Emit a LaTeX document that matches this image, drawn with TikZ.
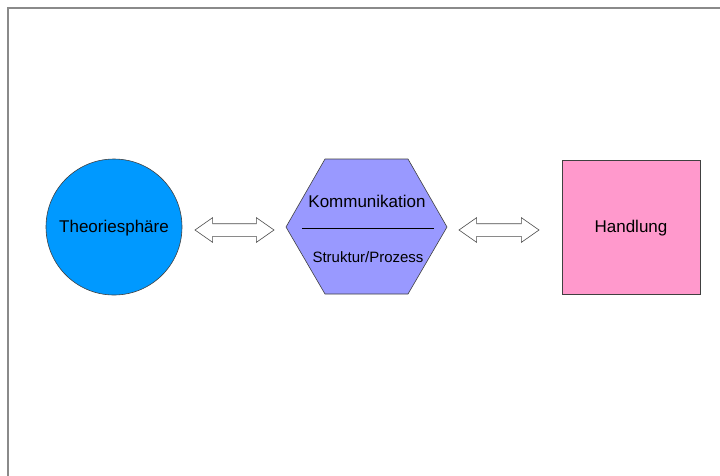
\documentclass[tikz,border=0pt]{standalone}
\usepackage{fontspec}
\setmainfont{Liberation Sans}
\usetikzlibrary{shapes.geometric,shapes.arrows}
\definecolor{sphere}{HTML}{0099FF}
\definecolor{hexfill}{HTML}{9999FF}
\definecolor{boxfill}{HTML}{FF99CC}
\definecolor{framegray}{HTML}{8A8A8A}
\begin{document}
\begin{tikzpicture}[x=1pt,y=-1pt,
  shapeline/.style={draw=black!75,line width=0.6pt},
  linkarrow/.style={shape=double arrow,draw=black!70,fill=white,line width=0.6pt,
    inner sep=0pt,inner ysep=6pt,minimum height=79pt,
    double arrow head extend=6pt,double arrow tip angle=70},
  lbl/.style={font=\fontsize{17}{19}\selectfont}]
\useasboundingbox (0,0) rectangle (720,475);
\fill[white] (0,0) rectangle (720,475);
% page frame
\draw[framegray,line width=1.4pt] (8,480) -- (8,8) -- (725,8);
% circle
\node[circle,shapeline,fill=sphere,minimum size=136pt,inner sep=0pt] (theo) at (114,227) {};
\node[lbl] (theolbl) at (114,228.5) {Theoriesphäre};
% hexagon
\draw[shapeline,fill=hexfill] (325,159) -- (408,159) -- (447,227) -- (408,294) -- (325,294) -- (286,227) -- cycle;
\node[lbl] (komm) at (367,201.5) {Kommunikation};
\node[font=\fontsize{15}{17}\selectfont] (proz) at (368,257) {Struktur/Prozess};
\coordinate (rl) at (302,228);
\coordinate (rr) at (434,228);
\draw[line width=0.8pt] (rl) -- (rr);
% square
\node[rectangle,shapeline,fill=boxfill,minimum width=138pt,minimum height=134pt,inner sep=0pt] (hand) at (631,227) {};
\node[lbl] (handlbl) at (631,228.5) {Handlung};
% double arrows
\node[linkarrow] (a1) at (234.5,230) {};
\node[linkarrow,minimum height=80pt] (a2) at (499,230) {};
\end{tikzpicture}
\end{document}
